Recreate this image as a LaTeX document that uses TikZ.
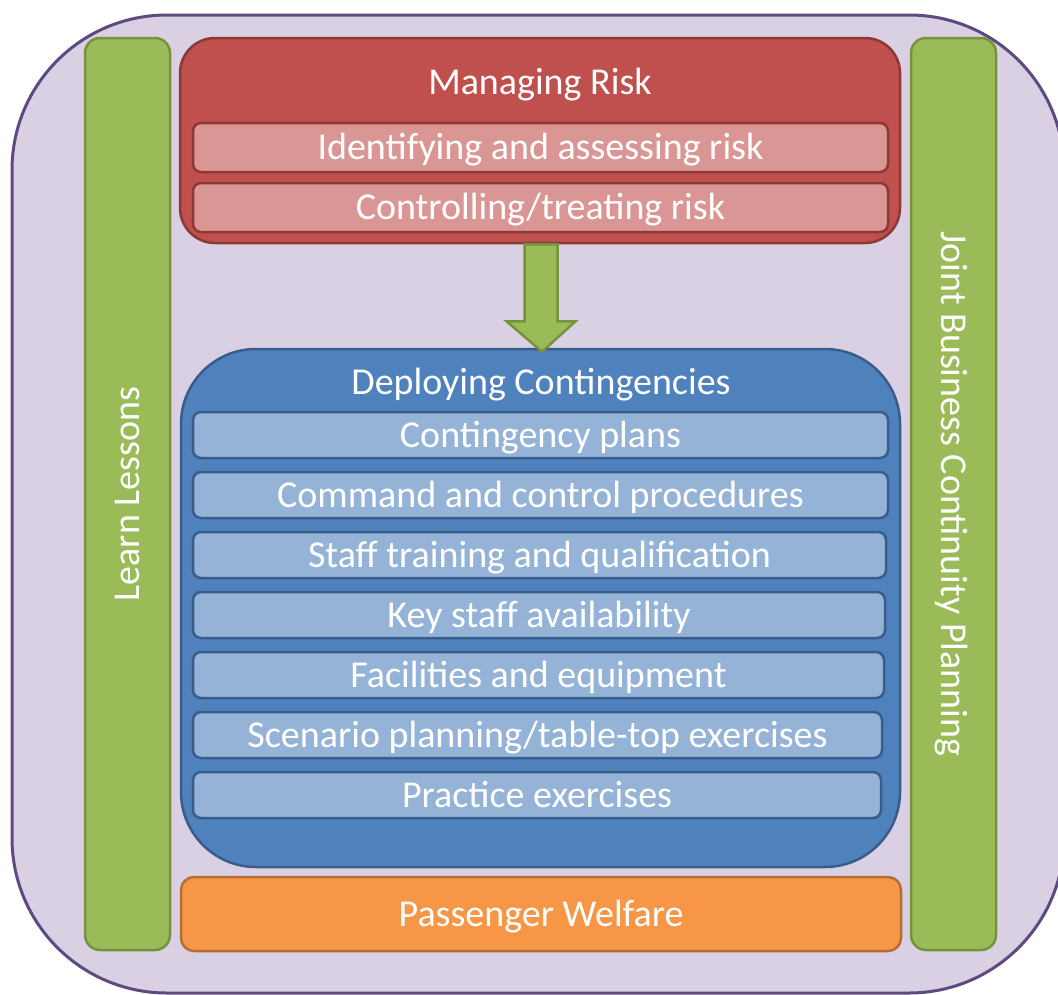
\documentclass[tikz,border=0pt]{standalone}
\usepackage{fontspec}
\setmainfont{Carlito}
\usetikzlibrary{calc}
\definecolor{lilac}{RGB}{217,208,227}
\definecolor{lilacedge}{RGB}{94,73,128}
\definecolor{leaf}{RGB}{155,187,89}
\definecolor{leafedge}{RGB}{118,146,60}
\definecolor{brick}{RGB}{192,80,77}
\definecolor{brickedge}{RGB}{140,56,54}
\definecolor{rose}{RGB}{218,150,148}
\definecolor{sea}{RGB}{79,129,189}
\definecolor{seaedge}{RGB}{56,93,138}
\definecolor{sky}{RGB}{149,179,215}
\definecolor{amber}{RGB}{247,150,70}
\definecolor{amberedge}{RGB}{182,109,49}
\tikzset{every node/.style={text=white, inner sep=0pt, font=\fontsize{38}{44}\selectfont, text height=24pt, text depth=0pt},
  box/.style={draw, line width=2.5pt, rectangle},
  sidebar/.style={box, fill=leaf, draw=leafedge, rounded corners=15pt, minimum width=912pt, minimum height=85pt},
  riskrow/.style={box, fill=rose, draw=brickedge, rounded corners=8pt, minimum width=695pt, minimum height=49pt},
  planrow/.style={box, fill=sky, draw=seaedge, rounded corners=8pt, minimum height=46pt}}

\begin{document}
\begin{tikzpicture}[x=1pt,y=-1pt]
  \useasboundingbox (0,0) rectangle (1058,994);
  % background panel
  \draw[fill=lilac, draw=lilacedge, line width=3pt, rounded corners=155pt] (12,15) rectangle (1064,993);
  % side bars
  \node[sidebar, rotate=90] (learn) at (127.5,494) {Learn Lessons};
  \node[sidebar, rotate=-90] (joint) at (953.5,494) {Joint Business Continuity Planning};
  % managing risk
  \node[box, fill=brick, draw=brickedge, rounded corners=35pt, minimum width=720pt, minimum height=205pt] (risk) at (540,140.5) {};
  \node (risktitle) at (540,82) {Managing Risk};
  \node[riskrow] (identify) at (540.5,147.5) {Identifying and assessing risk};
  \node[riskrow] (control) at (540.5,207.5) {Controlling/treating risk};
  % deploying contingencies
  \node[box, fill=sea, draw=seaedge, rounded corners=75pt, minimum width=719pt, minimum height=518pt] (deploy) at (540.5,608) {};
  \node (deploytitle) at (541,382) {Deploying Contingencies};
  \foreach \y/\r/\t [count=\i] in {435/888/{Contingency plans},
      495/888/{Command and control procedures},
      555/886/{Staff training and qualification},
      615/885/{Key staff availability},
      675/884/{Facilities and equipment},
      735/882/{Scenario planning/table-top exercises},
      795/881/{Practice exercises}}
    \node[planrow, minimum width=\r pt-193pt] (plan\i) at ({(193+\r)/2},\y) {\t};
  % passenger welfare
  \node[box, fill=amber, draw=amberedge, rounded corners=13pt, minimum width=720pt, minimum height=74pt] (welfare) at (541,914) {Passenger Welfare};
  % block arrow from risk to deploy
  \draw[fill=leaf, draw=leafedge, line width=2.5pt, line join=miter]
    ($(risk.south)+(-15.5,0)$) -- ($(risk.south)+(17.5,0)$) -- ($(risk.south)+(17.5,77)$)
    -- ($(risk.south)+(35.5,77)$) -- ($(deploy.north)+(1.5,4)$) -- ($(risk.south)+(-33.5,77)$)
    -- ($(risk.south)+(-15.5,77)$) -- cycle;
\end{tikzpicture}
\end{document}
